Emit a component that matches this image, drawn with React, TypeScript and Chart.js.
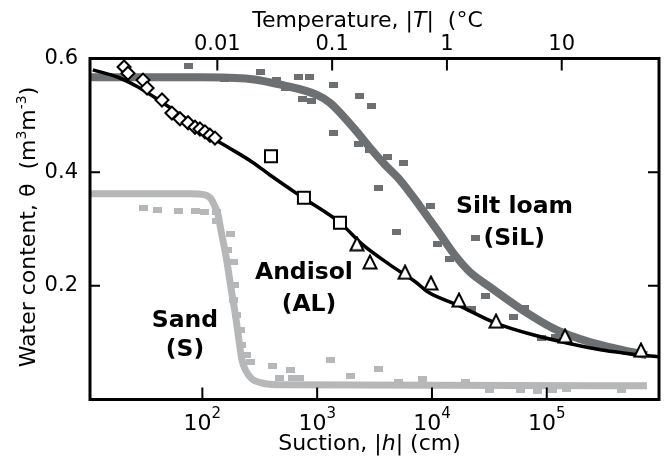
import React, { useEffect, useRef } from 'react';
import { Chart, registerables } from 'chart.js';

Chart.register(...registerables);

// ---- axis ranges & ticks ----
const SUCTION_MIN = 10.5;
const SUCTION_MAX = 9.5e5;
const CM_PER_DEGC = 13500; // suction (cm) equivalent of 1 °C freezing point depression
const THETA_MIN = 0;
const THETA_MAX = 0.6;

const suctionTicks = [100, 1000, 10000, 100000];
const suctionTickExponents = ['2', '3', '4', '5'];
const tempTicks = [0.01, 0.1, 1, 10];
const tempTickLabels = ['0.01', '0.1', '1', '10'];
const thetaTicks = [0.2, 0.4, 0.6];
const thetaTickLabels = ['0.2', '0.4', '0.6'];

// ---- Silt loam (SiL) ----
const silFitH = [10.5, 95.3, 260, 504, 996, 1294, 1679, 2223, 2884, 3898, 5265, 7863, 11750, 15860, 21430, 32000, 62100, 122700, 237700, 461000, 746000];
const silFitTheta = [0.567, 0.567, 0.564, 0.553, 0.536, 0.522, 0.499, 0.471, 0.443, 0.413, 0.386, 0.340, 0.291, 0.254, 0.224, 0.198, 0.157, 0.122, 0.101, 0.087, 0.078];
const silObsH = [76.4, 57.7, 95.3, 157, 235, 324, 438, 525, 681, 865, 752, 901, 1400, 2360, 3000, 1400, 2270, 2884, 4140, 5600, 3390, 9795, 4955, 11070, 14350, 24150, 29500, 22300, 51760, 63390, 90800, 118000];
const silObsTheta = [0.587, 0.566, 0.566, 0.564, 0.564, 0.576, 0.562, 0.548, 0.567, 0.567, 0.529, 0.525, 0.553, 0.534, 0.516, 0.469, 0.450, 0.439, 0.427, 0.416, 0.372, 0.340, 0.295, 0.274, 0.247, 0.284, 0.182, 0.159, 0.145, 0.161, 0.108, 0.110];

// ---- Sand (S) ----
const sandFitH = [10.5, 35, 78, 105.4, 119, 129, 137, 145, 161, 177, 196, 208, 221, 240, 271, 330, 474, 746000];
const sandFitTheta = [0.362, 0.362, 0.362, 0.360, 0.353, 0.339, 0.325, 0.298, 0.251, 0.198, 0.143, 0.105, 0.070, 0.050, 0.036, 0.029, 0.026, 0.024];
const sandObsH = [30.4, 40.3, 61.4, 88.0, 105.4, 134, 134, 177, 164, 185, 192, 188, 200, 213, 221, 240, 260, 412, 591, 474, 604, 708, 1294, 1968, 3451, 5160, 8350, 19400, 31400, 59600, 83800, 113200, 150000, 452000];
const sandObsTheta = [0.337, 0.334, 0.332, 0.332, 0.330, 0.330, 0.314, 0.291, 0.263, 0.242, 0.201, 0.175, 0.149, 0.122, 0.096, 0.078, 0.066, 0.059, 0.052, 0.038, 0.038, 0.038, 0.070, 0.041, 0.054, 0.031, 0.036, 0.031, 0.017, 0.017, 0.015, 0.017, 0.019, 0.017];

// ---- Andisol (AL) ----
const alFitH = [11.1, 18.4, 27.5, 44.5, 70.6, 112, 167, 271, 388, 752, 1581, 2506, 4306, 7396, 9226, 16860, 35400, 78900, 153000, 302700, 461000, 948000];
const alFitTheta = [0.580, 0.567, 0.550, 0.523, 0.495, 0.465, 0.444, 0.418, 0.395, 0.355, 0.311, 0.272, 0.237, 0.205, 0.189, 0.166, 0.135, 0.113, 0.099, 0.087, 0.082, 0.075];
const alDiamondH = [20.8, 22.5, 30.4, 33.0, 44.5, 54.3, 63.8, 75.0, 86.3, 95.3, 105.4, 116.5, 128.8];
const alDiamondTheta = [0.585, 0.574, 0.562, 0.548, 0.527, 0.504, 0.494, 0.487, 0.479, 0.476, 0.471, 0.465, 0.460];
const alSquareH = [396, 767, 1581];
const alSquareTheta = [0.428, 0.355, 0.311];
const alTriangleH = [2223, 2884, 5823, 9795, 17180, 36140, 144200, 662000];
const alTriangleTheta = [0.274, 0.242, 0.224, 0.205, 0.175, 0.138, 0.112, 0.087];

// ---- in-plot labels (anchored in data coordinates: suction, theta) ----
const labelTexts = ['Silt loam', '(SiL)', 'Andisol', '(AL)', 'Sand', '(S)'];
const labelH = [52400, 52000, 767, 849, 70.6, 70.6];
const labelTheta = [0.328, 0.272, 0.212, 0.156, 0.128, 0.076];

const SIL_COLOR = '#6c7072';
const SAND_COLOR = '#b5b7b9';
const FONT = "'DejaVu Sans', 'Liberation Sans', Arial, sans-serif";

const pts = (h: number[], t: number[]) => h.map((x, i) => ({ x, y: t[i] }));

type Run = { t: string; font: string; dy?: number };
function drawRuns(ctx: CanvasRenderingContext2D, runs: Run[], x: number, y: number) {
  ctx.textAlign = 'left';
  ctx.textBaseline = 'alphabetic';
  const widths = runs.map((r) => {
    ctx.font = r.font;
    return ctx.measureText(r.t).width;
  });
  const total = widths.reduce((a, b) => a + b, 0);
  let cx = x - total / 2;
  runs.forEach((r, i) => {
    ctx.font = r.font;
    ctx.fillText(r.t, cx, y + (r.dy || 0));
    cx += widths[i];
  });
}

function makeRect(w: number, h: number, color: string) {
  const c = document.createElement('canvas');
  c.width = w;
  c.height = h;
  const g = c.getContext('2d')!;
  g.fillStyle = color;
  g.fillRect(0, 0, w, h);
  return c;
}

function makeTriangle(w: number, h: number) {
  const c = document.createElement('canvas');
  c.width = w;
  c.height = h;
  const g = c.getContext('2d')!;
  g.lineWidth = 2;
  g.lineJoin = 'miter';
  g.beginPath();
  g.moveTo(w / 2, 1.5);
  g.lineTo(w - 1.5, h - 1.5);
  g.lineTo(1.5, h - 1.5);
  g.closePath();
  g.fillStyle = '#fff';
  g.fill();
  g.strokeStyle = '#000';
  g.stroke();
  return c;
}

const framePlugin = {
  id: 'framePlugin',
  afterDraw(chart: any) {
    const { ctx, chartArea } = chart;
    const { left, right, top, bottom } = chartArea;
    const xs = chart.scales.x;
    const xt = chart.scales.x2;
    const ys = chart.scales.y;
    ctx.save();
    ctx.strokeStyle = '#000';
    ctx.fillStyle = '#000';

    // inward tick marks
    ctx.lineWidth = 2;
    ctx.beginPath();
    suctionTicks.forEach((v) => {
      const px = xs.getPixelForValue(v);
      ctx.moveTo(px, bottom);
      ctx.lineTo(px, bottom - 12);
    });
    tempTicks.forEach((v) => {
      const px = xt.getPixelForValue(v);
      ctx.moveTo(px, top);
      ctx.lineTo(px, top + 12);
    });
    thetaTicks.forEach((v) => {
      const py = ys.getPixelForValue(v);
      ctx.moveTo(left, py);
      ctx.lineTo(left + 10, py);
      ctx.moveTo(right, py);
      ctx.lineTo(right - 11, py);
    });
    ctx.stroke();

    // frame
    ctx.lineWidth = 3;
    ctx.strokeRect(left, top, right - left, bottom - top);

    // bottom tick labels 10^n
    suctionTicks.forEach((v, i) => {
      const px = xs.getPixelForValue(v);
      drawRuns(ctx, [
        { t: '10', font: `22px ${FONT}` },
        { t: suctionTickExponents[i], font: `15px ${FONT}`, dy: -12 },
      ], px, bottom + 30.5);
    });

    const cxMid = (left + right) / 2;
    // bottom title
    drawRuns(ctx, [
      { t: 'Suction, |', font: `22px ${FONT}` },
      { t: 'h', font: `italic 22px ${FONT}` },
      { t: '| (cm)', font: `22px ${FONT}` },
    ], cxMid - 5, bottom + 50);

    // top title
    drawRuns(ctx, [
      { t: 'Temperature, |', font: `22px ${FONT}` },
      { t: 'T', font: `italic 22px ${FONT}` },
      { t: '|  (°C', font: `22px ${FONT}` },
    ], cxMid - 7, top - 32);

    // left title (rotated)
    ctx.save();
    ctx.translate(35, (top + bottom) / 2 - 2);
    ctx.rotate(-Math.PI / 2);
    drawRuns(ctx, [
      { t: 'Water content, θ  (m', font: `22px ${FONT}` },
      { t: '3', font: `14px ${FONT}`, dy: -9 },
      { t: 'm', font: `22px ${FONT}` },
      { t: '-3', font: `14px ${FONT}`, dy: -9 },
      { t: ')', font: `22px ${FONT}` },
    ], 0, 0);
    ctx.restore();

    // in-plot labels
    labelTexts.forEach((txt, i) => {
      const px = xs.getPixelForValue(labelH[i]);
      const py = ys.getPixelForValue(labelTheta[i]);
      drawRuns(ctx, [{ t: txt, font: `bold 23.5px ${FONT}` }], px, py);
    });
    ctx.restore();
  },
};

export default function App() {
  const ref = useRef<HTMLCanvasElement | null>(null);

  useEffect(() => {
    document.body.style.margin = '0';
    const canvas = ref.current;
    if (!canvas) return;
    const silRect = makeRect(9, 6, SIL_COLOR);
    const sandRect = makeRect(9, 6, SAND_COLOR);
    const triangle = makeTriangle(16, 16);

    const chart = new Chart(canvas, {
      type: 'scatter',
      data: {
        datasets: [
          {
            label: 'AL triangles',
            data: pts(alTriangleH, alTriangleTheta),
            pointStyle: triangle,
            pointRadius: 8,
            showLine: false,
            order: 1,
          },
          {
            label: 'AL squares',
            data: pts(alSquareH, alSquareTheta),
            pointStyle: 'rect',
            pointRadius: 8.5,
            pointBorderWidth: 2,
            pointBorderColor: '#000',
            pointBackgroundColor: '#fff',
            showLine: false,
            order: 1,
          },
          {
            label: 'AL diamonds',
            data: pts(alDiamondH, alDiamondTheta),
            pointStyle: 'rectRot',
            pointRadius: 6.5,
            pointBorderWidth: 2,
            pointBorderColor: '#000',
            pointBackgroundColor: '#fff',
            showLine: false,
            order: 1,
          },
          {
            label: 'AL fit',
            data: pts(alFitH, alFitTheta),
            showLine: true,
            borderColor: '#000',
            borderWidth: 3.5,
            pointRadius: 0,
            cubicInterpolationMode: 'monotone',
            order: 2,
          },
          {
            label: 'SiL obs',
            data: pts(silObsH, silObsTheta),
            pointStyle: silRect,
            pointRadius: 5,
            showLine: false,
            order: 3,
          },
          {
            label: 'SiL fit',
            data: pts(silFitH, silFitTheta),
            showLine: true,
            borderColor: SIL_COLOR,
            borderWidth: 8,
            pointRadius: 0,
            cubicInterpolationMode: 'monotone',
            order: 4,
          },
          {
            label: 'Sand obs',
            data: pts(sandObsH, sandObsTheta),
            pointStyle: sandRect,
            pointRadius: 5,
            showLine: false,
            order: 5,
          },
          {
            label: 'Sand fit',
            data: pts(sandFitH, sandFitTheta),
            showLine: true,
            borderColor: SAND_COLOR,
            borderWidth: 7,
            pointRadius: 0,
            cubicInterpolationMode: 'monotone',
            order: 6,
          },
        ] as any,
      },
      options: {
        animation: false,
        responsive: false,
        maintainAspectRatio: false,
        layout: { padding: 0 },
        plugins: { legend: { display: false }, tooltip: { enabled: false } },
        scales: {
          x: {
            type: 'logarithmic',
            position: 'bottom',
            min: SUCTION_MIN,
            max: SUCTION_MAX,
            afterBuildTicks: (s: any) => {
              s.ticks = suctionTicks.map((value) => ({ value }));
            },
            ticks: { display: false },
            grid: { display: false, drawTicks: false },
            border: { display: false },
            afterFit: (s: any) => {
              s.height = 59.5;
            },
          },
          x2: {
            type: 'logarithmic',
            position: 'top',
            min: SUCTION_MIN / CM_PER_DEGC,
            max: SUCTION_MAX / CM_PER_DEGC,
            afterBuildTicks: (s: any) => {
              s.ticks = tempTicks.map((value) => ({ value }));
            },
            ticks: {
              display: true,
              color: '#000',
              padding: 1,
              maxRotation: 0,
              autoSkip: false,
              font: { family: FONT, size: 21 },
              callback: (v: any) => {
                const i = tempTicks.findIndex((t) => Math.abs(t - v) / t < 1e-6);
                return i >= 0 ? tempTickLabels[i] : '';
              },
            },
            grid: { display: false, drawTicks: false },
            border: { display: false },
            afterFit: (s: any) => {
              s.height = 58.5;
            },
          },
          y: {
            type: 'linear',
            position: 'left',
            min: THETA_MIN,
            max: THETA_MAX,
            afterBuildTicks: (s: any) => {
              s.ticks = thetaTicks.map((value) => ({ value }));
            },
            ticks: {
              color: '#000',
              padding: 12,
              autoSkip: false,
              font: { family: FONT, size: 21 },
              callback: (v: any) => {
                const i = thetaTicks.findIndex((t) => Math.abs(t - v) < 1e-6);
                return i >= 0 ? thetaTickLabels[i] : '';
              },
            },
            grid: { display: false, drawTicks: false },
            border: { display: false },
            afterFit: (s: any) => {
              s.width = 90;
            },
          },
          y2: {
            type: 'linear',
            position: 'right',
            min: THETA_MIN,
            max: THETA_MAX,
            ticks: { display: false },
            grid: { display: false, drawTicks: false },
            border: { display: false },
            afterFit: (s: any) => {
              s.width = 11;
            },
          },
        },
      } as any,
      plugins: [framePlugin],
    });
    return () => chart.destroy();
  }, []);

  return (
    <canvas ref={ref} width={670} height={459} style={{ display: 'block', width: 670, height: 459 }} />
  );
}
